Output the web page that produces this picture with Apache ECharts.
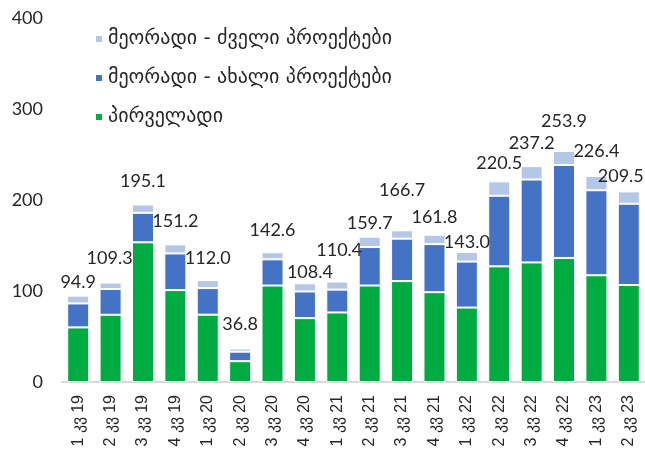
<!DOCTYPE html>
<html>
<head>
<meta charset="utf-8">
<script src="https://cdn.jsdelivr.net/npm/echarts@6/dist/echarts.min.js"></script>
<style>
  html, body { margin: 0; padding: 0; background: #fff; }
  #canvas { width: 645px; height: 459px; }
</style>
</head>
<body>
<div id="canvas"></div>
<script>
var quarters = ['1 კვ 19', '2 კვ 19', '3 კვ 19', '4 კვ 19', '1 კვ 20', '2 კვ 20', '3 კვ 20', '4 კვ 20',
    '1 კვ 21', '2 კვ 21', '3 კვ 21', '4 კვ 21', '1 კვ 22', '2 კვ 22', '3 კვ 22', '4 კვ 22',
    '1 კვ 23', '2 კვ 23'];
var primary = [60.0, 73.9, 153.5, 101.0, 74.0, 22.9, 106.0, 70.2, 76.4, 106.0, 110.9, 98.7, 81.8, 127.1, 131.4, 136.3, 117.3, 106.6];
var secondaryNew = [26.3, 28.3, 32.4, 40.3, 29.2, 10.4, 28.8, 29.3, 25.1, 42.3, 46.6, 52.8, 50.5, 77.6, 91.1, 102.2, 93.4, 89.3];
var secondaryOld = [8.6, 7.1, 9.2, 9.9, 8.8, 3.5, 7.8, 8.9, 8.9, 11.4, 9.2, 10.3, 10.7, 15.8, 14.7, 15.4, 15.7, 13.6];
var totals = [94.9, 109.3, 195.1, 151.2, 112.0, 36.8, 142.6, 108.4, 110.4, 159.7, 166.7, 161.8, 143.0, 220.5, 237.2, 253.9, 226.4, 209.5];
var seriesNames = ['პირველადი', 'მეორადი - ახალი პროექტები', 'მეორადი - ძველი პროექტები'];

// manual nudges of the total labels (dx, dy), the source placed them by hand
var labelShift = [[0, 9], [-1, -2], [0, -1], [0, -1], [0, 0], [0, -2], [0, 0], [5, 11], [2, -9],
    [0, 9], [0, -18], [0, 4], [0, 12], [0, 4], [0, -1], [0, -8], [0, -3], [-8, 7]];

var myChart = echarts.init(document.getElementById('canvas'));

var topData = [];
for (var i in secondaryOld) {
    topData.push({
        value: secondaryOld[i],
        label: {offset: labelShift[i]}
    });
}

var colors = ['#00ac42', '#4472c4', '#b4c7e7'];

var option = {
    animation: false,
    legend: {
        data: [seriesNames[2], seriesNames[1], seriesNames[0]],
        orient: 'vertical',
        left: 89,
        top: 24,
        itemWidth: 8,
        itemHeight: 8,
        itemGap: 19,
        icon: 'rect',
        textStyle: {
            fontFamily: 'DejaVu Sans',
            fontSize: 20,
            color: '#262626'
        }
    },
    grid: {
        left: 62,
        top: 18,
        width: 585,
        height: 364
    },
    xAxis: {
        type: 'category',
        data: quarters,
        axisLine: {lineStyle: {color: '#d9d9d9', width: 2}},
        axisTick: {show: false},
        axisLabel: {
            rotate: 90,
            interval: 0,
            margin: 13,
            fontFamily: 'Liberation Sans',
            fontSize: 16,
            color: '#262626'
        }
    },
    yAxis: {
        type: 'value',
        min: 0,
        max: 400,
        interval: 100,
        splitLine: {show: false},
        axisLine: {show: false},
        axisTick: {show: false},
        axisLabel: {
            margin: 19,
            fontFamily: 'Lato',
            fontSize: 18,
            color: '#262626'
        }
    },
    series: [
        {
            name: seriesNames[0],
            type: 'bar',
            stack: 'total',
            data: primary,
            barCategoryGap: '32%',
            itemStyle: {color: colors[0], borderColor: '#fff', borderWidth: 1}
        },
        {
            name: seriesNames[1],
            type: 'bar',
            stack: 'total',
            data: secondaryNew,
            itemStyle: {color: colors[1], borderColor: '#fff', borderWidth: 1}
        },
        {
            name: seriesNames[2],
            type: 'bar',
            stack: 'total',
            data: topData,
            itemStyle: {color: colors[2], borderColor: '#fff', borderWidth: 1},
            label: {
                show: true,
                position: 'top',
                distance: 13,
                fontFamily: 'Lato',
                fontSize: 18,
                color: '#262626',
                formatter: function (p) {
                    return totals[p.dataIndex].toFixed(1);
                }
            }
        }
    ]
};
myChart.setOption(option);
</script>
</body>
</html>
